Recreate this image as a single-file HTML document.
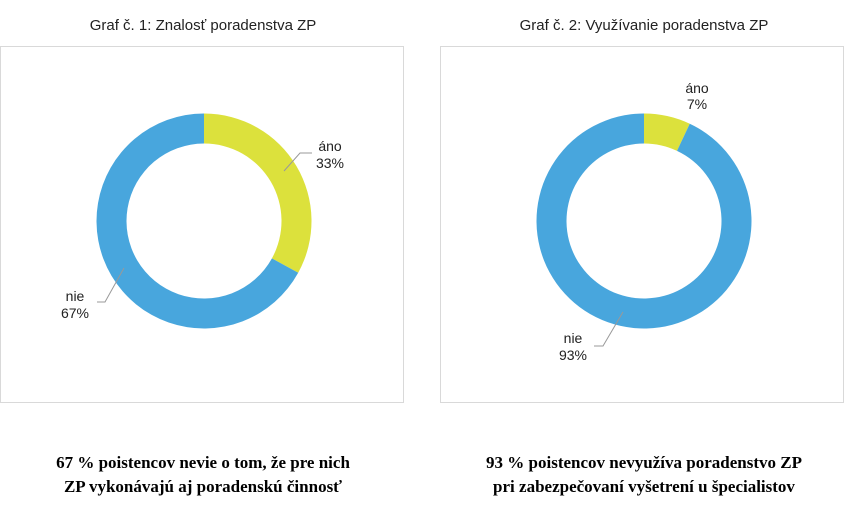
<!DOCTYPE html>
<html><head><meta charset="utf-8"><style>
body{margin:0;background:#fff;width:846px;height:510px;overflow:hidden;font-family:"Liberation Sans",Arial,sans-serif}
svg{position:absolute;left:0;top:0}
</style></head><body>
<svg width="846" height="510">
<text x="203" y="30" font-size="15" text-anchor="middle" fill="#222">Graf č. 1: Znalosť poradenstva ZP</text>
<text x="644" y="30" font-size="15" text-anchor="middle" fill="#222">Graf č. 2: Využívanie poradenstva ZP</text>
<rect x="0.5" y="46.5" width="403" height="356" fill="none" stroke="#d9d9d9"/>
<rect x="440.5" y="46.5" width="403" height="356" fill="none" stroke="#d9d9d9"/>
<g id="c1"></g>
<g id="c2"></g>
<g fill="#222" font-size="14" text-anchor="middle">
<text x="330" y="151">áno</text>
<text x="330" y="168">33%</text>
<text x="75" y="301">nie</text>
<text x="75" y="318">67%</text>
<text x="697" y="93">áno</text>
<text x="697" y="109">7%</text>
<text x="573" y="343">nie</text>
<text x="573" y="360">93%</text>
</g>
<g fill="none" stroke="#999" stroke-width="1">
<polyline points="284,171 300,153 312,153"/>
<polyline points="124,268 105,302 97,302"/>
<polyline points="623,312 603,346 594,346"/>
</g>
<g font-family="Liberation Serif,serif" font-weight="bold" font-size="17" text-anchor="middle" fill="#000">
<text x="203" y="468">67 % poistencov nevie o tom, že pre nich</text>
<text x="203" y="492">ZP vykonávajú aj poradenskú činnosť</text>
<text x="644" y="468">93 % poistencov nevyužíva poradenstvo ZP</text>
<text x="644" y="492">pri zabezpečovaní vyšetrení u špecialistov</text>
</g>
</svg>
<script>
const categories=["áno","nie"];
const values1=[33,67];
const values2=[7,93];
const colors=["#dce13c","#48a6dd"];
const NS="http://www.w3.org/2000/svg";
function donut(g,cx,cy,vals,prefix){
  const R=107.5,r=77.5,tot=vals.reduce((a,b)=>a+b,0);let a0=0;
  vals.forEach((v,i)=>{
    const a1=a0+v/tot*2*Math.PI;
    const p=(rr,a)=>[cx+rr*Math.sin(a),cy-rr*Math.cos(a)];
    const L=(a1-a0)>Math.PI?1:0;
    const [x1,y1]=p(R,a0),[x2,y2]=p(R,a1),[x3,y3]=p(r,a1),[x4,y4]=p(r,a0);
    const path=document.createElementNS(NS,"path");
    path.setAttribute("d",`M${x1},${y1}A${R},${R} 0 ${L} 1 ${x2},${y2}L${x3},${y3}A${r},${r} 0 ${L} 0 ${x4},${y4}Z`);
    path.setAttribute("fill",colors[i]);
    
    
    g.appendChild(path);a0=a1;
  });
}
donut(document.getElementById("c1"),204,221,values1,"chart1");
donut(document.getElementById("c2"),644,221,values2,"chart2");
</script>
</body></html>
